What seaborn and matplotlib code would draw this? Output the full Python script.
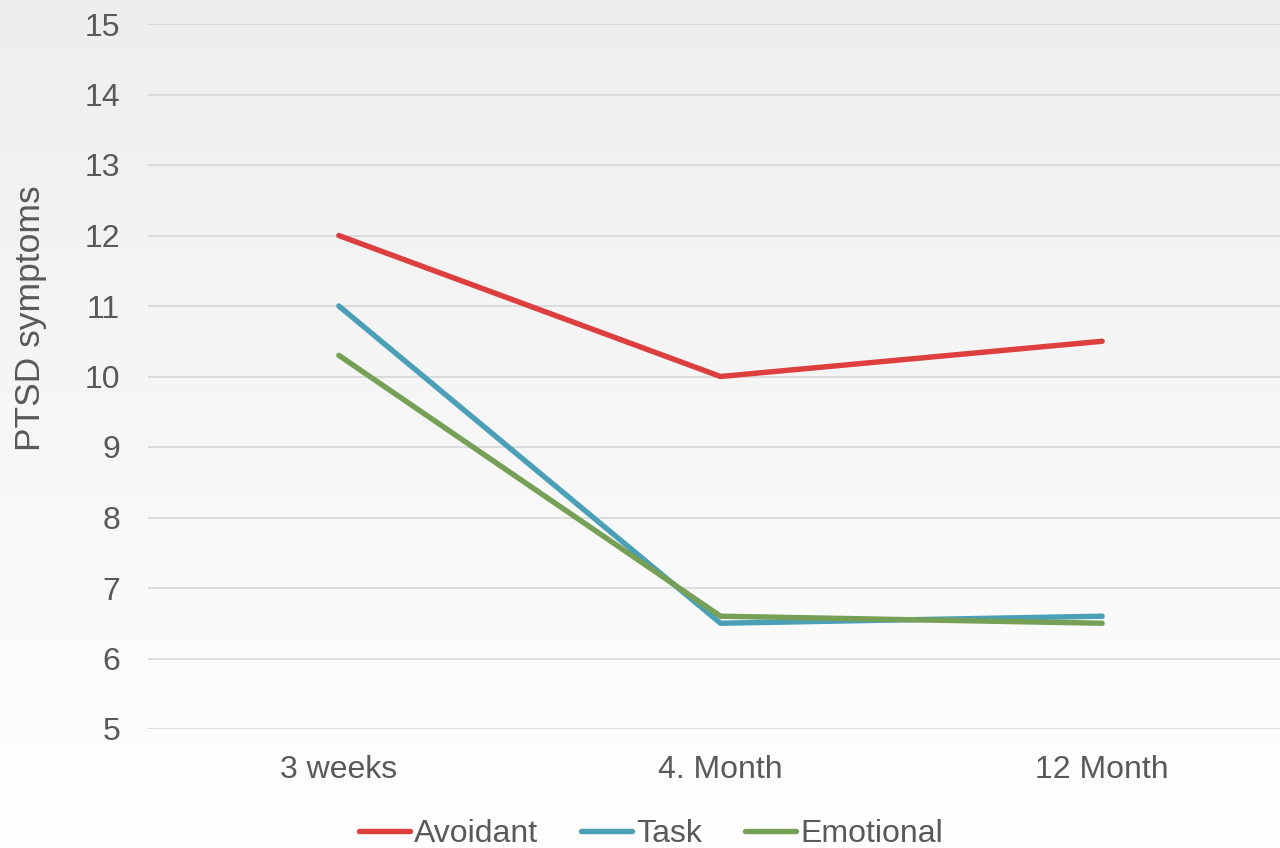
import numpy as np
import pandas as pd
import matplotlib
matplotlib.use("Agg")
import matplotlib.pyplot as plt
import seaborn as sns
from matplotlib.lines import Line2D

timepoints = ["3 weeks", "4. Month", "12 Month"]
avoidant = [12.0, 10.0, 10.5]
task = [11.0, 6.5, 6.6]
emotional = [10.3, 6.6, 6.5]
series_names = ["Avoidant", "Task", "Emotional"]
colors = ["#DD3E3E", "#4BA0B8", "#76A055"]

df = pd.DataFrame({
    "time": timepoints * 3,
    "x": list(range(len(timepoints))) * 3,
    "value": avoidant + task + emotional,
    "style": np.repeat(series_names, len(timepoints)),
})

sns.set_theme(style="white")
plt.rcParams["font.family"] = ["Liberation Sans", "DejaVu Sans"]

W, H = 1280, 848
fig = plt.figure(figsize=(W / 100, H / 100), dpi=100)

# soft vertical gradient behind everything
bg = fig.add_axes([0, 0, 1, 1], zorder=-10)
grad = np.linspace(0, 1, 256).reshape(-1, 1)
bg.imshow(grad, aspect="auto", cmap=matplotlib.colors.LinearSegmentedColormap.from_list(
    "g", ["#EEEEEE", "#FFFFFF"]), extent=[0, 1, 0, 1], origin="upper")
bg.axis("off")

x0, x1 = 148, 1293
y_top, y_bot = 24, 729
ax = fig.add_axes([x0 / W, 1 - y_bot / H, (x1 - x0) / W, (y_bot - y_top) / H])
ax.patch.set_alpha(0)

sns.lineplot(data=df, x="x", y="value", hue="style", palette=colors,
             linewidth=3.9, ax=ax, legend=False, sort=False)
for line in ax.get_lines():
    line.set_solid_capstyle("round")

ax.set_xlim(-0.5, 2.5)
ax.set_ylim(5, 15)
ax.set_yticks(range(5, 16))
ax.set_xticks(range(len(timepoints)))
ax.set_xticklabels(timepoints)
ax.yaxis.grid(True, color="#D9D9D9", linewidth=1.3)
ax.set_axisbelow(True)
for s in ax.spines.values():
    s.set_visible(False)
ax.tick_params(axis="both", length=0, labelsize=23, labelcolor="#595959")
ax.tick_params(axis="y", pad=20)
ax.tick_params(axis="x", pad=19)
ax.set_xlabel("")
ax.set_ylabel("")
fig.text(31 / W, 1 - 318 / H, "PTSD symptoms", rotation=90, ha="center", va="center",
         fontsize=25.5, color="#595959")

handles = [Line2D([], [], color=c, linewidth=3.9, solid_capstyle="round") for c in colors]
fig.legend(handles, series_names, loc="center", bbox_to_anchor=(651 / W, 1 - 834 / H),
           ncol=3, frameon=False, fontsize=23, labelcolor="#595959",
           handlelength=1.6, handletextpad=0.12, columnspacing=1.35)

fig.savefig("out.png", dpi=100)
